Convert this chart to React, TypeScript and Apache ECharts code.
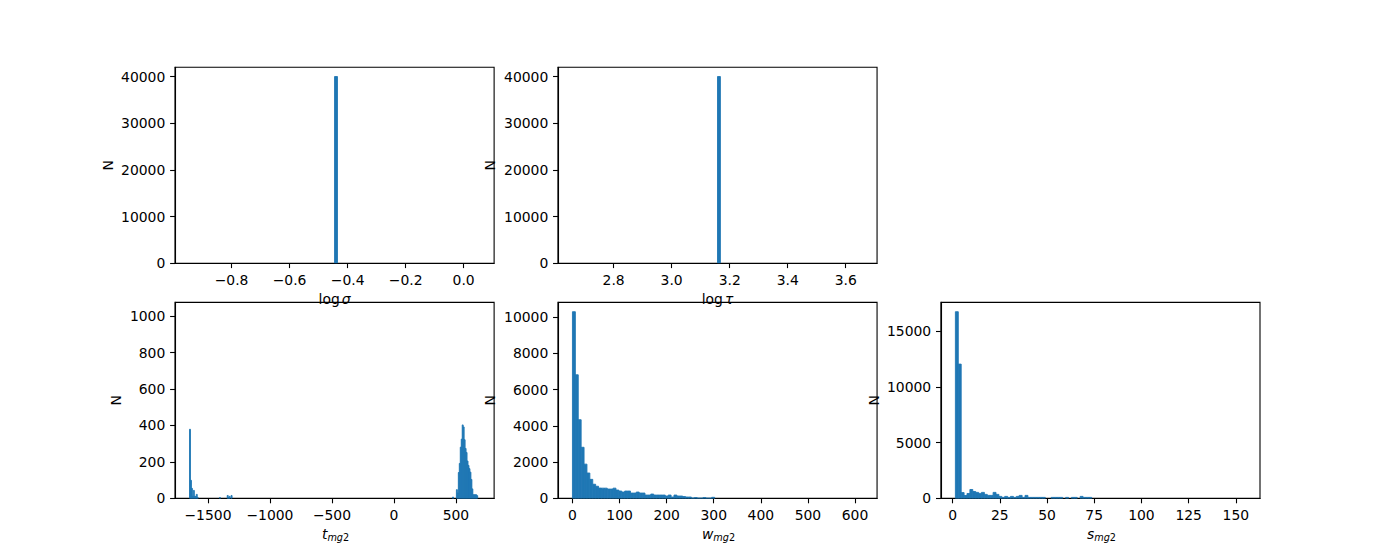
import React, { useEffect, useRef } from 'react';
import * as echarts from 'echarts';

const BAR_COLOR = '#1f77b4';
const FONT = 'DejaVu Sans';
const FONT_SIZE = 13.9;

// ---- log sigma: all samples fall in a single bin ----
const sigmaBinStart = -0.945;
const sigmaBinWidth = 0.01;
const sigmaBinCount = 100;
const sigmaCounts: [number, number][] = [[50, 40000]];
const sigmaTicks = [-0.8, -0.6, -0.4, -0.2, 0.0];

// ---- log tau ----
const tauBinStart = 2.658;
const tauBinWidth = 0.01;
const tauBinCount = 100;
const tauCounts: [number, number][] = [[50, 40000]];
const tauTicks = [2.8, 3.0, 3.2, 3.4, 3.6];

const topYTicks = [0, 10000, 20000, 30000, 40000];

// ---- t_mg2 (sparse: [bin index, count]) ----
const tBinStart = -1649;
const tBinWidth = 7.8;
const tBinCount = 300;
const tCounts: [number, number][] = [
  [0, 379], [1, 99], [2, 55], [3, 11], [4, 44], [5, 11], [6, 11], [7, 22], [8, 5],
  [31, 5], [39, 16], [40, 5], [41, 11], [43, 16],
  [272, 7], [276, 48], [277, 30], [278, 142], [279, 192], [280, 281], [281, 325],
  [282, 403], [283, 392], [284, 322], [285, 274], [286, 252], [287, 205], [288, 181],
  [289, 163], [290, 144], [291, 104], [292, 52], [293, 20], [294, 20], [295, 20],
  [296, 20], [297, 15],
];
const tYMax = 1075;
const tTicks = [-1500, -1000, -500, 0, 500];
const tYTicks = [0, 200, 400, 600, 800, 1000];

// ---- w_mg2 (dense, first bins; remaining bins empty) ----
const wBinStart = 0;
const wBinWidth = 6.16;
const wBinCount = 100;
const wCounts = [
  10300, 6820, 4340, 2820, 1890, 1400, 1050, 780, 670, 570,
  565, 565, 515, 515, 565, 460, 405, 350, 405, 405,
  295, 295, 350, 295, 295, 185, 185, 240, 185, 185,
  185, 185, 130, 185, 75, 185, 130, 130, 100, 75,
  75, 20, 45, 15, 15, 45, 15, 15, 60,
];
const wTicks = [0, 100, 200, 300, 400, 500, 600];
const wYTicks = [0, 2000, 4000, 6000, 8000, 10000];

// ---- s_mg2 ----
const sBinStart = 1.5;
const sBinWidth = 1.536;
const sBinCount = 100;
const sCounts = [
  16750, 12050, 520, 260, 440, 800, 620, 540, 450, 540,
  360, 270, 270, 540, 360, 180, 90, 180, 90, 180,
  90, 180, 270, 90, 270, 90, 90, 90, 90, 90,
  90, 0, 0, 90, 90, 90, 90, 0, 90, 0,
  90, 90, 0, 180, 90, 90, 90,
];
const sTicks = [0, 25, 50, 75, 100, 125, 150];
const sYTicks = [0, 5000, 10000, 15000];

function sparseToRects(start: number, width: number, counts: [number, number][]) {
  return counts
    .filter(([, c]) => c > 0)
    .map(([i, c]) => [start + i * width, start + (i + 1) * width, c]);
}
function denseToRects(start: number, width: number, counts: number[]) {
  return counts
    .map((c, i) => [start + i * width, start + (i + 1) * width, c])
    .filter((r) => r[2] > 0);
}

const fmtMinus = (s: string) => s.replace('-', '\u2212');
const fmt1 = (v: number) => fmtMinus(v.toFixed(1));
const fmt0 = (v: number) => fmtMinus(String(Math.round(v)));

const richStyles = {
  r: { fontFamily: FONT, fontSize: FONT_SIZE, lineHeight: 18, color: '#000' },
  i: { fontFamily: FONT, fontSize: FONT_SIZE, lineHeight: 18, color: '#000', fontStyle: 'italic', padding: [0, 0, 0, 2] },
  si: { fontFamily: FONT, fontSize: 9.7, lineHeight: 10, color: '#000', fontStyle: 'italic', verticalAlign: 'bottom' },
  sr: { fontFamily: FONT, fontSize: 9.7, lineHeight: 10, color: '#000', verticalAlign: 'bottom' },
};

interface Panel {
  row: number;
  col: number;
  rects: number[][];
  binStart: number;
  binEnd: number;
  yMax: number;
  xTicks: number[];
  yTicks: number[];
  xFmt: (v: number) => string;
  xName: string;
  yGap: number;
}

const panels: Panel[] = [
  {
    row: 0, col: 0, rects: sparseToRects(sigmaBinStart, sigmaBinWidth, sigmaCounts),
    binStart: sigmaBinStart, binEnd: sigmaBinStart + sigmaBinCount * sigmaBinWidth,
    yMax: 40000 * 1.05, xTicks: sigmaTicks, yTicks: topYTicks, xFmt: fmt1,
    xName: '{r|log}{i|σ}', yGap: 58.5,
  },
  {
    row: 0, col: 1, rects: sparseToRects(tauBinStart, tauBinWidth, tauCounts),
    binStart: tauBinStart, binEnd: tauBinStart + tauBinCount * tauBinWidth,
    yMax: 40000 * 1.05, xTicks: tauTicks, yTicks: topYTicks, xFmt: fmt1,
    xName: '{r|log}{i|τ}', yGap: 58.5,
  },
  {
    row: 1, col: 0, rects: sparseToRects(tBinStart, tBinWidth, tCounts),
    binStart: tBinStart, binEnd: tBinStart + tBinCount * tBinWidth,
    yMax: tYMax, xTicks: tTicks, yTicks: tYTicks, xFmt: fmt0,
    xName: '{i|t}{si|mg}{sr|2}', yGap: 49.6,
  },
  {
    row: 1, col: 1, rects: denseToRects(wBinStart, wBinWidth, wCounts),
    binStart: wBinStart, binEnd: wBinStart + wBinCount * wBinWidth,
    yMax: Math.max(...wCounts) * 1.05, xTicks: wTicks, yTicks: wYTicks, xFmt: fmt0,
    xName: '{i|w}{si|mg}{sr|2}', yGap: 58.5,
  },
  {
    row: 1, col: 2, rects: denseToRects(sBinStart, sBinWidth, sCounts),
    binStart: sBinStart, binEnd: sBinStart + sBinCount * sBinWidth,
    yMax: Math.max(...sCounts) * 1.05, xTicks: sTicks, yTicks: sYTicks, xFmt: fmt0,
    xName: '{i|s}{si|mg}{sr|2}', yGap: 57.7,
  },
];

// matplotlib default subplot layout (2 x 3)
const FIG_W = 1400;
const FIG_H = 560;
const SP = { left: 0.125, right: 0.9, bottom: 0.11, top: 0.88, wspace: 0.2, hspace: 0.2 };
const axW = ((SP.right - SP.left) * FIG_W) / (3 + 2 * SP.wspace);
const axH = ((SP.top - SP.bottom) * FIG_H) / (2 + SP.hspace);

function renderBar(_params: any, api: any) {
  const x0 = api.value(0);
  const x1 = api.value(1);
  const y = api.value(2);
  const p0 = api.coord([x0, 0]);
  const p1 = api.coord([x1, y]);
  return {
    type: 'rect',
    shape: { x: p0[0], y: p1[1], width: p1[0] - p0[0], height: p0[1] - p1[1] },
    style: { fill: BAR_COLOR, stroke: BAR_COLOR, lineWidth: 0.9 },
  };
}

function buildOption() {
  const grid: any[] = [];
  const xAxis: any[] = [];
  const yAxis: any[] = [];
  const series: any[] = [];
  const tickStyle = { color: '#000', width: 1.1 };
  const labelStyle = { color: '#000', fontFamily: FONT, fontSize: FONT_SIZE, margin: 9.7 };
  panels.forEach((p, gi) => {
    grid.push({
      left: SP.left * FIG_W + p.col * axW * (1 + SP.wspace),
      top: (1 - SP.top) * FIG_H + p.row * axH * (1 + SP.hspace),
      width: axW,
      height: axH,
      show: true,
      borderColor: '#000',
      borderWidth: 1.1,
      backgroundColor: 'transparent',
      containLabel: false,
    });
    const pad = 0.05 * (p.binEnd - p.binStart);
    xAxis.push({
      type: 'value',
      gridIndex: gi,
      min: p.binStart - pad,
      max: p.binEnd + pad,
      axisLine: { show: true, onZero: false, lineStyle: tickStyle },
      axisTick: { show: true, length: 4.9, lineStyle: tickStyle, customValues: p.xTicks },
      axisLabel: { ...labelStyle, customValues: p.xTicks, formatter: p.xFmt },
      splitLine: { show: false },
      name: p.xName,
      nameLocation: 'middle',
      nameGap: 26.5,
      nameTextStyle: { fontFamily: FONT, fontSize: FONT_SIZE, color: '#000', lineHeight: 18, rich: richStyles },
    });
    yAxis.push({
      type: 'value',
      gridIndex: gi,
      min: 0,
      max: p.yMax,
      axisLine: { show: true, onZero: false, lineStyle: tickStyle },
      axisTick: { show: true, length: 4.9, lineStyle: tickStyle, customValues: p.yTicks },
      axisLabel: { ...labelStyle, customValues: p.yTicks, formatter: fmt0 },
      splitLine: { show: false },
      name: 'N',
      nameLocation: 'middle',
      nameRotate: 90,
      nameGap: p.yGap,
      nameTextStyle: { fontFamily: FONT, fontSize: FONT_SIZE, color: '#000', lineHeight: 18 },
    });
    series.push({
      type: 'custom',
      xAxisIndex: gi,
      yAxisIndex: gi,
      renderItem: renderBar,
      encode: { x: [0, 1], y: 2 },
      clip: true,
      silent: true,
      data: p.rects,
    });
  });
  return { animation: false, grid, xAxis, yAxis, series };
}

export default function App() {
  const ref = useRef<HTMLDivElement>(null);
  useEffect(() => {
    if (!ref.current) return;
    const chart = echarts.init(ref.current, undefined, { renderer: 'svg' });
    chart.setOption(buildOption() as any);
    return () => chart.dispose();
  }, []);
  return (
    <div
      ref={ref}
      style={{ position: 'fixed', left: 0, top: 0, width: FIG_W, height: FIG_H, background: '#fff' }}
    />
  );
}
